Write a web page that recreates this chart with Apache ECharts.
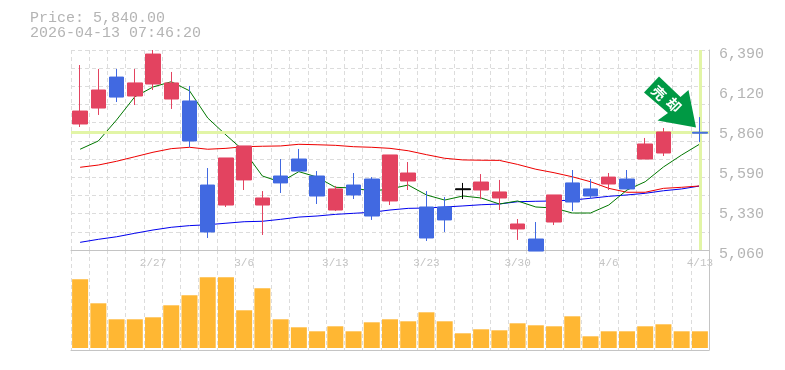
<!DOCTYPE html>
<html><head><meta charset="utf-8">
<style>html,body{margin:0;padding:0;background:#fff}#c{width:785px;height:370px}</style>
<script src="https://cdn.jsdelivr.net/npm/echarts@6/dist/echarts.min.js"></script>
</head><body><div id="c"></div>
<script>
const categories = ['2/20','2/24','2/25','2/26','2/27','3/2','3/3','3/4','3/5','3/6','3/9','3/10','3/11','3/12','3/13','3/16','3/17','3/18','3/19','3/23','3/24','3/25','3/26','3/27','3/30','3/31','4/1','4/2','4/3','4/6','4/7','4/8','4/9','4/10','4/13'];
const xTickLabels = ['2/27','3/6','3/13','3/23','3/30','4/6','4/13'];
const opens  = [5898,6004,6210,6084,6164,6064,6051,5492,5359,5526,5359,5552,5665,5552,5326,5492,5532,5386,5519,5346,5346,5467,5459,5406,5200,5133,5246,5506,5466,5499,5532,5665,5705,null,5843];
const closes = [5984,6124,6077,6171,6363,6171,5785,5180,5672,5752,5406,5506,5585,5419,5466,5426,5286,5692,5572,5140,5260,5461,5512,5446,5233,5053,5426,5379,5419,5545,5466,5765,5845,null,5837];
const lows   = [5878,5958,6044,6024,6124,5998,5745,5140,5346,5459,5160,5439,5585,5366,5319,5399,5260,5359,5459,5120,5180,5399,5399,5326,5127,5053,5226,5319,5399,5459,5466,5665,5685,null,5778];
const highs  = [6290,6264,6264,6264,6390,6244,6151,5605,5672,5752,5452,5665,5732,5585,5486,5572,5545,5692,5645,5452,5412,5506,5565,5526,5266,5246,5426,5592,5532,5572,5592,5805,5871,null,5944];
const ma5    = [5730,5785,5925,6079,6144,6179,6119,5938,5825,5718,5552,5512,5581,5545,5477,5472,5452,5466,5492,5426,5392,5419,5406,5366,5386,5346,5339,5306,5306,5359,5459,5514,5612,5692,5765];
const ma25   = [5610,5625,5650,5680,5710,5734,5743,5730,5736,5747,5750,5752,5763,5760,5756,5747,5743,5736,5720,5694,5670,5659,5657,5656,5629,5597,5574,5547,5514,5470,5444,5444,5470,5477,5486];
const ma75   = [5111,5131,5148,5171,5193,5211,5222,5228,5238,5248,5251,5264,5279,5286,5297,5304,5311,5326,5337,5339,5346,5353,5361,5366,5381,5384,5386,5392,5404,5417,5426,5437,5454,5466,5486];
const volumes = [68700,44700,28700,28700,30700,42700,52700,70700,70700,37700,59700,28700,20700,16700,21700,16700,25700,28700,26700,35700,26700,14700,18700,17700,24700,22700,21700,31700,11700,16700,16700,21700,23700,16700,16700];
const yTickValues = [5060,5326,5592,5858,6124,6390];
const yTickLabels = ['5,060','5,330','5,590','5,860','6,120','6,390'];
const blackCandles = ['3/25'];
const lastPrice = 5840;
const lastDate = '4/13';
const headerLines = ['Price: 5,840.00','2026-04-13 07:46:20'];
const badgeChars = ['売','却'];

const RED='#E34360', BLUE='#4169E1', GRID='#dcdcdc', AXIS='#c4c4c4', TXT='#b4b4b4', MONO='"Liberation Mono","DejaVu Sans Mono",monospace';
const candleData = categories.map((c,i)=>{
  if(opens[i]===null) return ['-','-','-','-'];
  const v=[opens[i],closes[i],lows[i],highs[i]];
  if(blackCandles.includes(c)){
    return {value:v,itemStyle:{color:'#000',color0:'#000',borderColor:'#000',borderColor0:'#000'}};
  }
  return v;
});
const dash={type:[4,3],color:GRID,width:1};
const chart=echarts.init(document.getElementById('c'),null,{renderer:'canvas'});
chart.setOption({
  animation:false,
  backgroundColor:'#fff',
  title:{show:false},
  grid:[{left:71,right:76,top:50,height:200},{left:71,right:76,top:250,height:100}],
  xAxis:[
    {type:'category',gridIndex:0,data:categories,boundaryGap:true,
      axisLine:{onZero:false,lineStyle:{color:AXIS,width:1}},axisTick:{show:false},
      axisLabel:{show:true,interval:(i,v)=>xTickLabels.includes(v),fontFamily:MONO,fontSize:11,color:'#c4c4c4',margin:8,hideOverlap:false},
      splitLine:{show:false}},
    {type:'category',gridIndex:1,data:categories,boundaryGap:true,
      axisLine:{onZero:false,lineStyle:{color:AXIS,width:1}},axisTick:{show:false},axisLabel:{show:false},
      splitLine:{show:true,interval:0,lineStyle:dash}},
    {type:'category',gridIndex:0,data:categories,boundaryGap:true,show:true,position:'top',
      axisLine:{show:false},axisTick:{show:false},axisLabel:{show:false},
      splitLine:{show:true,interval:0,lineStyle:dash}}
  ],
  yAxis:[
    {type:'value',gridIndex:0,position:'right',min:5060,max:6390,scale:true,
      axisLine:{show:true,lineStyle:{color:AXIS}},axisTick:{show:false},splitLine:{show:false},
      axisLabel:{show:true,customValues:yTickValues,margin:10,fontFamily:MONO,fontSize:15,color:TXT,verticalAlign:'top',lineHeight:8,
        formatter:(v)=>yTickLabels[yTickValues.indexOf(v)]}},
    {type:'value',gridIndex:1,position:'right',min:-2000,max:98000,
      axisLine:{show:true,lineStyle:{color:AXIS}},axisTick:{show:false},axisLabel:{show:false},splitLine:{show:false}},
    {type:'value',gridIndex:0,position:'left',min:0,max:11,interval:1,
      axisLine:{show:false},axisTick:{show:false},axisLabel:{show:false},splitLine:{show:true,lineStyle:dash}}
  ],
  series:[
    {type:'line',xAxisIndex:0,yAxisIndex:0,data:[],z:1,silent:true,symbol:'none',
      markLine:{silent:true,symbol:'none',label:{show:false},animation:false,
        lineStyle:{color:'#E2F5A6',width:3,type:'solid'},
        data:[{yAxis:lastPrice},{xAxis:lastDate}]}},
    {type:'line',xAxisIndex:0,yAxisIndex:0,data:ma75,z:2,symbol:'none',lineStyle:{color:'#0000ee',width:1}},
    {type:'line',xAxisIndex:0,yAxisIndex:0,data:ma25,z:2,symbol:'none',lineStyle:{color:'#ee0000',width:1}},
    {type:'line',xAxisIndex:0,yAxisIndex:0,data:ma5,z:2,symbol:'none',lineStyle:{color:'#007700',width:1}},
    {type:'candlestick',xAxisIndex:0,yAxisIndex:0,data:candleData,z:5,barWidth:15,
      itemStyle:{color:RED,color0:BLUE,borderColor:RED,borderColor0:BLUE,borderWidth:1}},
    {type:'bar',xAxisIndex:1,yAxisIndex:1,data:volumes,barWidth:16,itemStyle:{color:'#FFB733'},z:3}
  ],
  graphic:[
    {type:'text',left:30,top:11,z:20,style:{text:headerLines.join('\n'),fontFamily:MONO,fontSize:15,lineHeight:15,fill:TXT}},
    {type:'polygon',z:20,shape:{points:[[659,76.5],[644,92.5],[668,113],[657.5,120.5],[696,127.5],[688.5,90],[680.5,97]]},style:{fill:'#009944'}},
    {type:'text',z:21,x:659,y:93,rotation:-Math.PI/4,style:{text:badgeChars[0],fontFamily:'"Noto Sans CJK JP"',fontWeight:'bold',fontSize:14,fill:'#fff',align:'center',verticalAlign:'middle'}},
    {type:'text',z:21,x:674,y:105,rotation:-Math.PI/4,style:{text:badgeChars[1],fontFamily:'"Noto Sans CJK JP"',fontWeight:'bold',fontSize:14,fill:'#fff',align:'center',verticalAlign:'middle'}}
  ]
});
</script></body></html>
